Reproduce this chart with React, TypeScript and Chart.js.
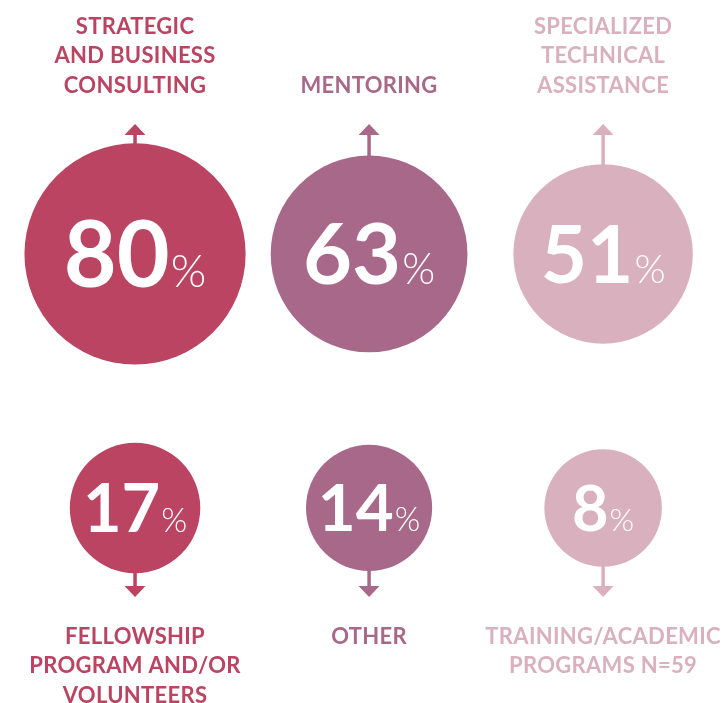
import React, { useEffect, useRef } from "react";
import { Chart, registerables } from "chart.js";

Chart.register(...registerables);

// ---- data ----
const categories: string[][] = [
  ["STRATEGIC", "AND BUSINESS", "CONSULTING"],
  ["MENTORING"],
  ["SPECIALIZED", "TECHNICAL", "ASSISTANCE"],
  ["FELLOWSHIP", "PROGRAM AND/OR", "VOLUNTEERS"],
  ["OTHER"],
  ["TRAINING/ACADEMIC", "PROGRAMS N=59"],
];
const values: number[] = [80, 63, 51, 17, 14, 8];
const valueSuffix = "%";

// ---- styles ----
const palette = ["#BA4462", "#A8688A", "#D9B0BE"];
const FONT = "Lato, 'Open Sans', 'DejaVu Sans', sans-serif";
const W = 722;
const H = 703;

const radiusOf = (v: number) => 53 + 0.72 * v;
const digitHeightOf = (v: number) => 43 + 0.28 * v;

const labelPlugin = {
  id: "bubbleLabels",
  afterDatasetsDraw(chart: any) {
    const ctx = chart.ctx as CanvasRenderingContext2D;
    const meta = chart.getDatasetMeta(0);
    meta.data.forEach((el: any, i: number) => {
      const cx = el.x;
      const cy = el.y;
      const r = el.options.radius;
      const row = Math.floor(i / 3);
      const color = palette[i % 3];
      ctx.save();
      // arrow
      ctx.fillStyle = color;
      const headH = 11;
      const headW = 21;
      const stemW = 3.5;
      if (row === 0) {
        const tip = cy - 130;
        const base = tip + headH;
        ctx.fillRect(cx - stemW / 2, base - 0.5, stemW, cy - r - base + 2);
        ctx.beginPath();
        ctx.moveTo(cx, tip);
        ctx.lineTo(cx - headW / 2, base);
        ctx.lineTo(cx + headW / 2, base);
        ctx.closePath();
        ctx.fill();
      } else {
        const tip = cy + 89;
        const base = tip - headH;
        ctx.fillRect(cx - stemW / 2, cy + r - 2, stemW, base - (cy + r) + 2.5);
        ctx.beginPath();
        ctx.moveTo(cx, tip);
        ctx.lineTo(cx - headW / 2, base);
        ctx.lineTo(cx + headW / 2, base);
        ctx.closePath();
        ctx.fill();
      }
      // category label
      ctx.font = `bold 22px ${FONT}`;
      try { (ctx as any).letterSpacing = "0.3px"; } catch (e) {}
      ctx.textAlign = "center";
      ctx.textBaseline = "alphabetic";
      const lines = categories[i];
      const lh = 29.5;
      lines.forEach((ln, k) => {
        let y: number;
        if (row === 0) y = cy - 161 - (lines.length - 1 - k) * lh;
        else y = cy + 136 + k * lh;
        ctx.fillText(ln, cx, y);
      });
      try { (ctx as any).letterSpacing = "0px"; } catch (e) {}
      // value
      const v = values[i];
      const dh = digitHeightOf(v);
      const fs = dh / 0.7165;
      const big = `bold ${fs}px ${FONT}`;
      const small = `300 ${fs * 0.5}px ${FONT}`;
      ctx.font = big;
      const wNum = ctx.measureText(String(v)).width;
      ctx.font = small;
      const wPct = ctx.measureText(valueSuffix).width;
      const gap = 1;
      const total = wNum + gap + wPct;
      const x0 = cx - total / 2;
      const baseY = cy + dh / 2;
      ctx.fillStyle = "#ffffff";
      ctx.textAlign = "left";
      ctx.font = big;
      ctx.fillText(String(v), x0, baseY);
      ctx.font = small;
      ctx.fillText(valueSuffix, x0 + wNum + gap, baseY);
      ctx.restore();
    });
  },
};

export default function App() {
  const ref = useRef<HTMLCanvasElement | null>(null);
  useEffect(() => {
    let chart: Chart | null = null;
    let cancelled = false;
    const make = () => {
      if (cancelled || !ref.current) return;
      chart = new Chart(ref.current, {
        type: "bubble",
        data: {
          datasets: [
            {
              data: values.map((v, i) => ({ x: i % 3, y: Math.floor(i / 3), r: radiusOf(v) })),
              backgroundColor: values.map((_, i) => palette[i % 3]),
              borderWidth: 0,
              hoverRadius: 0,
              clip: false as any,
            },
          ],
        },
        options: {
          responsive: false,
          animation: false,
          events: [],
          layout: { padding: 0, autoPadding: false },
          plugins: { legend: { display: false }, tooltip: { enabled: false } },
          scales: {
            x: { type: "linear", display: false, min: -0.577, max: 2.508 },
            y: { type: "linear", display: false, min: -1, max: 1.768, reverse: true },
          },
        },
        plugins: [labelPlugin],
      });
    };
    const fonts: any = (document as any).fonts;
    if (fonts && fonts.load) {
      Promise.all([
        fonts.load(`bold 22px Lato`),
        fonts.load(`300 30px Lato`),
        fonts.load(`400 30px Lato`),
      ])
        .catch(() => {})
        .then(make);
    } else make();
    return () => {
      cancelled = true;
      if (chart) chart.destroy();
    };
  }, []);
  return (
    <div style={{ position: "fixed", left: 0, top: 0, width: W, height: H, background: "#fff" }}>
      <canvas ref={ref} width={W} height={H} style={{ width: W, height: H, display: "block" }} />
    </div>
  );
}
